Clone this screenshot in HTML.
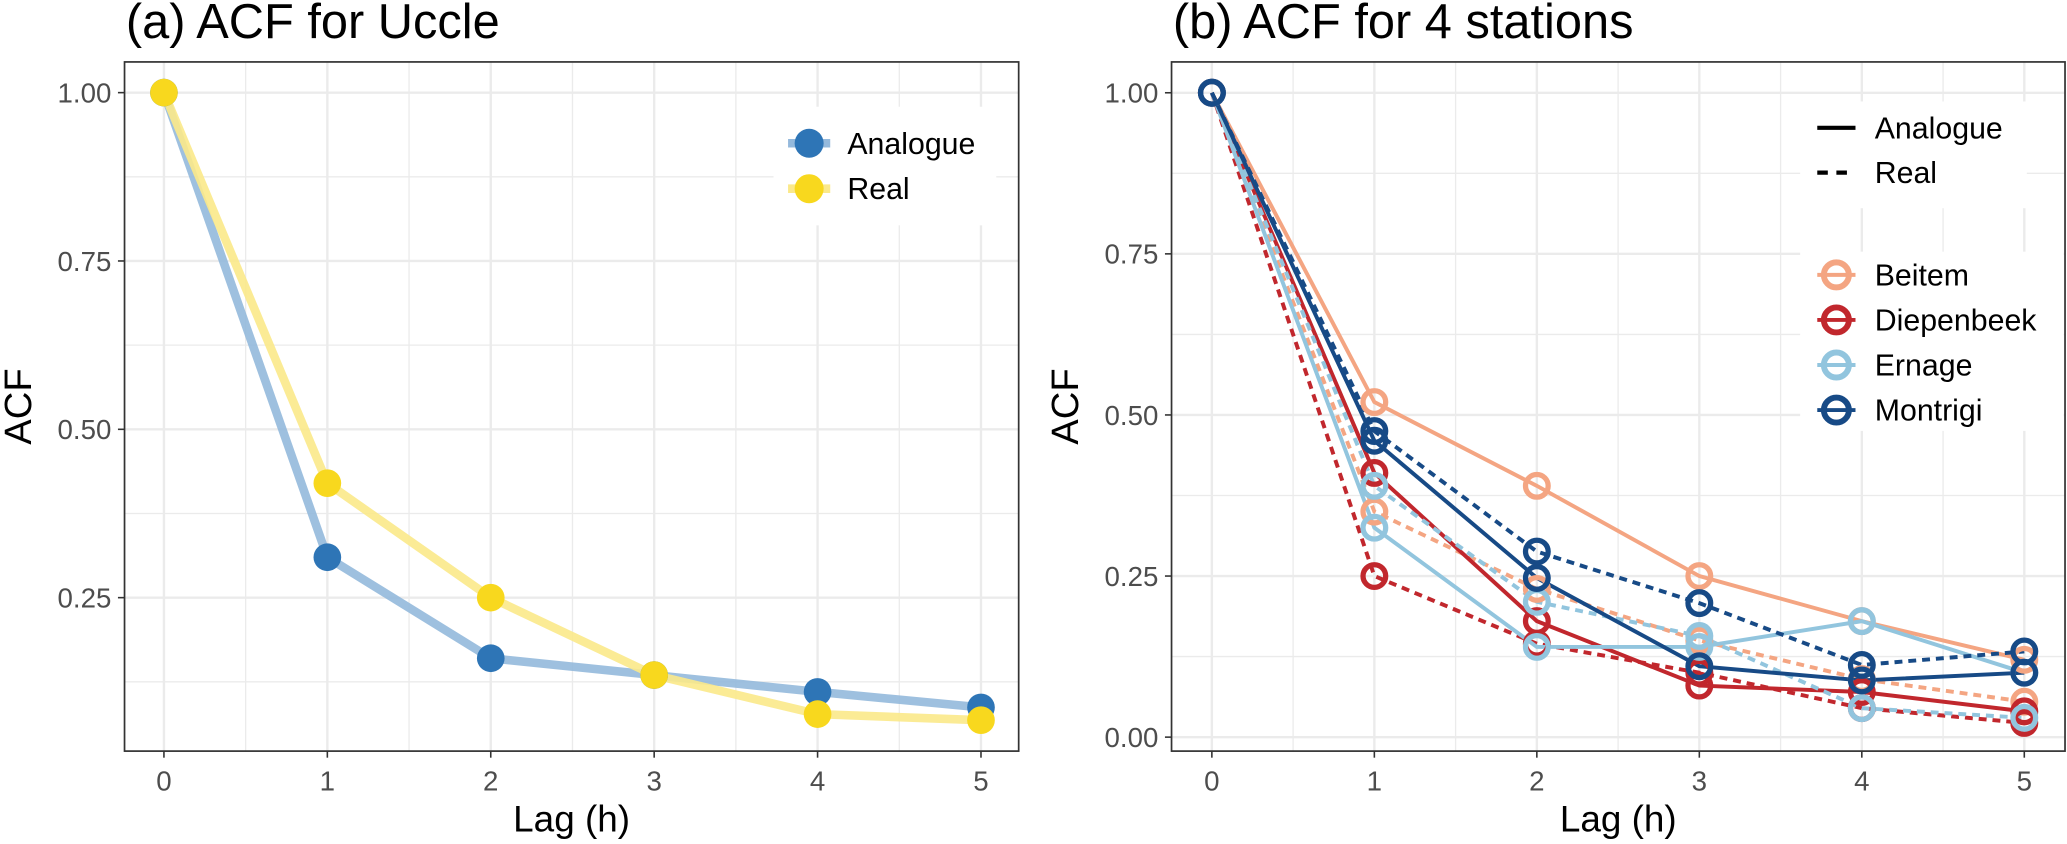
<!DOCTYPE html>
<html><head><meta charset="utf-8"><style>
html,body{margin:0;padding:0;background:#fff}
svg{display:block;font-family:"Liberation Sans",Arial,sans-serif}
</style></head><body>
<svg id="chart" width="2067" height="844" viewBox="0 0 1568.5 640.5" preserveAspectRatio="none" xmlns="http://www.w3.org/2000/svg"></svg>
<script>
const lags = [0,1,2,3,4,5];
const yTicks = [0.25,0.5,0.75,1.0];
const yTicksB = [0,0.25,0.5,0.75,1.0];
const ucAnalogue = [1,0.31,0.16,0.135,0.11,0.087];
const ucReal = [1,0.42,0.25,0.135,0.077,0.068];
const stations = ["Beitem","Diepenbeek","Ernage","Montrigi"];
const beitemAnalogue = [1,0.52,0.39,0.25,0.18,0.12];
const beitemReal = [1,0.35,0.23,0.15,0.09,0.055];
const diepAnalogue = [1,0.41,0.18,0.08,0.07,0.04];
const diepReal = [1,0.25,0.145,0.10,0.045,0.022];
const ernageAnalogue = [1,0.325,0.14,0.14,0.18,0.10];
const ernageReal = [1,0.39,0.21,0.157,0.045,0.03];
const montAnalogue = [1,0.46,0.247,0.11,0.088,0.10];
const montReal = [1,0.475,0.288,0.208,0.112,0.133];

const NS="http://www.w3.org/2000/svg";
const svg=document.getElementById('chart');
function mk(tag,attrs,parent){const e=document.createElementNS(NS,tag);for(const k in attrs)e.setAttribute(k,attrs[k]);(parent||svg).appendChild(e);return e;}

function panel(cfg){
  const g=mk('g',{});
  
  
  const {L,R,T,B,x0,dx,y1,per}=cfg;
  const xs=v=>x0+v*dx, ys=v=>y1+(1-v)*per;
  cfg.xs=xs;cfg.ys=ys;
  mk('rect',{x:L,y:T,width:R-L,height:B-T,fill:'#fff'},g);
  for(let i=-1;i<6;i++){const x=xs(i+0.5); if(x>L&&x<R) mk('line',{x1:x,x2:x,y1:T,y2:B,stroke:'#ebebeb','stroke-width':1},g);}
  for(let v=-0.125; v<1.2; v+=0.25){const y=ys(v); if(y>T&&y<B) mk('line',{x1:L,x2:R,y1:y,y2:y,stroke:'#ebebeb','stroke-width':1},g);}
  for(const v of lags){mk('line',{x1:xs(v),x2:xs(v),y1:T,y2:B,stroke:'#ebebeb','stroke-width':1.8},g);}
  for(const v of cfg.ticks){mk('line',{x1:L,x2:R,y1:ys(v),y2:ys(v),stroke:'#ebebeb','stroke-width':1.8},g);}
  for(const v of cfg.ticks){
    const t=mk('text',{x:L-10,y:ys(v)+7.5,'text-anchor':'end','font-size':21,fill:'#4d4d4d'},g);t.textContent=v.toFixed(2);
    
    
    mk('line',{x1:L-5,x2:L,y1:ys(v),y2:ys(v),stroke:'#333','stroke-width':1.2},g);
  }
  for(const v of lags){
    const t=mk('text',{x:xs(v),y:B+30,'text-anchor':'middle','font-size':21,fill:'#4d4d4d'},g);t.textContent=v;
    
    
    mk('line',{x1:xs(v),x2:xs(v),y1:B,y2:B+5,stroke:'#333','stroke-width':1.2},g);
  }
  const xt=mk('text',{x:(L+R)/2,y:631,'text-anchor':'middle','font-size':28,fill:'#000'},g);xt.textContent='Lag (h)';
  
  
  const yt=mk('text',{x:0,y:0,'text-anchor':'middle','font-size':29,fill:'#000',transform:`translate(${L-71},${(T+B)/2}) rotate(-90)`},g);yt.textContent='ACF';
  
  
  const tt=mk('text',{x:L+1,y:29,'font-size':37,fill:'#000'},g);tt.textContent=cfg.title;
  
  
  cfg.g=g;
  return cfg;
}
function pts(cfg,arr){return arr.map((v,i)=>cfg.xs(lags[i])+','+cfg.ys(v)).join(' ');}

// Panel A
const A=panel({name:'panel-a',title:'(a) ACF for Uccle',L:94.5,R:773,T:47,B:570,x0:124.4,dx:124,y1:70.3,per:511,ticks:yTicks});
const serA=[{n:'Analogue',d:ucAnalogue,line:'#94b9dc',pt:'#2e75b6'},{n:'Real',d:ucReal,line:'#fbe98a',pt:'#f8d81e'}];
for(const s of serA){
  const l=mk('polyline',{points:pts(A,s.d),fill:'none',stroke:s.line,'stroke-width':6.5,'stroke-opacity':0.9},A.g);
  
  
}
for(const s of serA){
  s.d.forEach((v,i)=>{const c=mk('circle',{cx:A.xs(lags[i]),cy:A.ys(v),r:10.5,fill:s.pt},A.g);
    
    });
}
mk('rect',{x:A.L,y:A.T,width:A.R-A.L,height:A.B-A.T,fill:'none',stroke:'#333','stroke-width':1.3},A.g);
const la=mk('g',{},A.g);


mk('rect',{x:587,y:81,width:169,height:90,fill:'#fff'},la);
serA.forEach((s,i)=>{const y=108.7+i*34.5;
  mk('line',{x1:598,x2:630,y1:y,y2:y,stroke:s.line,'stroke-width':6.5},la);
  mk('circle',{cx:614,cy:y,r:11,fill:s.pt},la);
  const t=mk('text',{x:643,y:y+8,'font-size':23},la);t.textContent=s.n;
  
  });

// Panel B
const B=panel({name:'panel-b',title:'(b) ACF for 4 stations',L:889,R:1567,T:47,B:570,x0:919.6,dx:123.3,y1:70.4,per:489,ticks:yTicksB});
const cols=['#f4a582','#c1272d','#92c5de','#174a86'];
const serB=[[beitemAnalogue,beitemReal],[diepAnalogue,diepReal],[ernageAnalogue,ernageReal],[montAnalogue,montReal]];
serB.forEach((pair,si)=>{
  pair.forEach((d,k)=>{
    const l=mk('polyline',{points:pts(B,d),fill:'none',stroke:cols[si],'stroke-width':3},B.g);
    if(k===1)l.setAttribute('stroke-dasharray','6,4.5');
    
    
  });
});
serB.forEach((pair,si)=>{
  pair.forEach((d,k)=>{
    d.forEach((v,i)=>{const c=mk('circle',{cx:B.xs(lags[i]),cy:B.ys(v),r:8.6,fill:'none',stroke:cols[si],'stroke-width':4},B.g);
      
      });
  });
});
mk('rect',{x:B.L,y:B.T,width:B.R-B.L,height:B.B-B.T,fill:'none',stroke:'#333','stroke-width':1.3},B.g);
const lb=mk('g',{},B.g);


mk('rect',{x:1366,y:77,width:172,height:81,fill:'#fff'},lb);
mk('rect',{x:1366,y:191,width:200,height:136,fill:'#fff'},lb);
['Analogue','Real'].forEach((n,i)=>{const y=97+i*34;
  const ln=mk('line',{x1:1379,x2:1408,y1:y,y2:y,stroke:'#000','stroke-width':3.2},lb);
  if(i)ln.setAttribute('stroke-dasharray','8,6.5');
  const t=mk('text',{x:1422.6,y:y+8,'font-size':23},lb);t.textContent=n;
  
  });
stations.forEach((n,i)=>{const y=208.6+i*34.2;
  mk('line',{x1:1379,x2:1408,y1:y,y2:y,stroke:cols[i],'stroke-width':3},lb);
  mk('circle',{cx:1393.5,cy:y,r:9.5,fill:'none',stroke:cols[i],'stroke-width':4.5},lb);
  const t=mk('text',{x:1422.6,y:y+8,'font-size':23},lb);t.textContent=n;
  
  });
</script>
</body></html>
